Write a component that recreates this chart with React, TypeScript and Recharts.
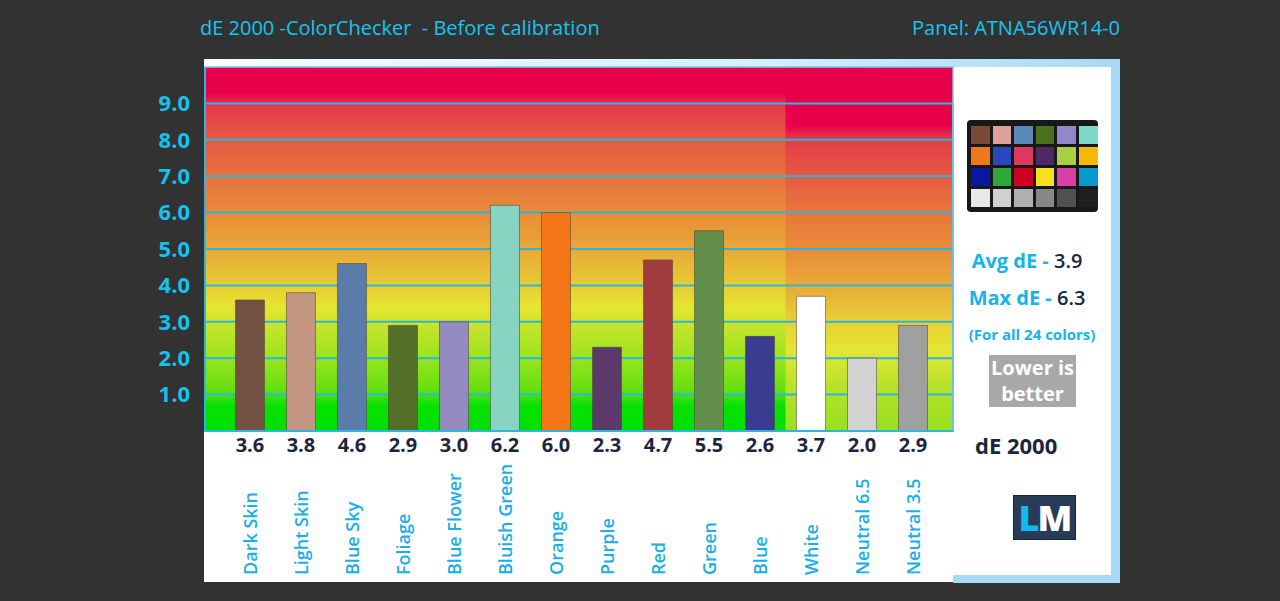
import { BarChart, Bar, XAxis, YAxis, ReferenceArea, Cell } from "recharts"

const categories = [
  "Dark Skin",
  "Light Skin",
  "Blue Sky",
  "Foliage",
  "Blue Flower",
  "Bluish Green",
  "Orange",
  "Purple",
  "Red",
  "Green",
  "Blue",
  "White",
  "Neutral 6.5",
  "Neutral 3.5",
]

const deValues = [3.6, 3.8, 4.6, 2.9, 3.0, 6.2, 6.0, 2.3, 4.7, 5.5, 2.6, 3.7, 2.0, 2.9]

const barColors = [
  "#735244", "#c39583", "#5b7caa", "#546f27", "#958bc1", "#88d4c3", "#f47616",
  "#5b396b", "#a03b3f", "#638f4d", "#393c91", "#ffffff", "#d2d2d2", "#a0a0a0",
]

const yTicks = [1, 2, 3, 4, 5, 6, 7, 8, 9]

// colorchecker swatches, row by row
const checkerColors = [
  "#7a4a38", "#dca29a", "#5a88b8", "#4a7020", "#9088c8", "#80d8c8",
  "#f07818", "#2848c0", "#e03860", "#502868", "#a8d040", "#f8b808",
  "#0818a0", "#30a838", "#d00020", "#f8e020", "#d840a8", "#0898d0",
  "#e8e8e8", "#d0d0d0", "#b0b0b0", "#888888", "#505050", "#202020",
]

const avgDe = 3.9
const maxDe = 6.3

const X_MIN = -0.882
const X_MAX = 13.784

const CYAN = "#14c2ef"
const GRID = "#2db6e0"
const NAVY = "#1b2540"
const FONT = "'Open Sans', sans-serif"

const data = categories.map((name, idx) => ({ idx, name, value: deValues[idx] }))

function CategoryTick(props: any) {
  const { x, y, payload } = props
  const i = payload.value
  return (
    <g>
      <text x={x} y={y + 21} textAnchor="middle" fill={NAVY} fontSize={20} fontWeight={700} fontFamily={FONT}>
        {deValues[i].toFixed(1)}
      </text>
      <text
        transform={`translate(${x},${y + 144}) rotate(-90)`}
        textAnchor="start"
        dominantBaseline="central"
        fill="#17aeea"
        fontSize={18}
        fontWeight={600}
        fontFamily={FONT}
      >
        {categories[i]}
      </text>
    </g>
  )
}

export default function App() {
  return (
    <div style={{ position: "fixed", left: 0, top: 0, width: 1280, height: 601, background: "#323232", overflow: "hidden", fontFamily: FONT }}>
      <div style={{ position: "absolute", left: 200, top: 14, fontSize: 20, color: "#12c6f0", whiteSpace: "pre" }}>
        {"dE 2000 -ColorChecker  - Before calibration"}
      </div>
      <div style={{ position: "absolute", right: 160, top: 14, fontSize: 20, color: "#12c6f0" }}>Panel: ATNA56WR14-0</div>

      {/* frame */}
      <div style={{ position: "absolute", left: 204, top: 59, width: 916, height: 8, background: "linear-gradient(90deg, #f6fcff 0%, #d4f0ff 60%, #a6daf8 100%)" }} />
      <div style={{ position: "absolute", left: 204, top: 67, width: 749, height: 515, background: "#ffffff" }} />
      <div style={{ position: "absolute", left: 953, top: 67, width: 167, height: 516, background: "#a6daf8" }} />
      <div style={{ position: "absolute", left: 953, top: 67, width: 158, height: 508, background: "#ffffff" }} />

      {/* right panel */}
      <div style={{ position: "absolute", left: 967, top: 120, width: 131, height: 92, background: "#181818", borderRadius: 4 }}>
        {checkerColors.map((c, i) => (
          <div
            key={i}
            style={{
              position: "absolute",
              left: 4 + (i % 6) * 21.6,
              top: 6 + Math.floor(i / 6) * 21,
              width: 18.5,
              height: 18,
              background: c,
            }}
          />
        ))}
      </div>
      <div style={{ position: "absolute", left: 948, width: 158, top: 247, textAlign: "center", fontSize: 20, fontWeight: 700, color: "#14b4ee" }}>
        Avg dE - <span style={{ color: NAVY, fontWeight: 600 }}>{avgDe.toFixed(1)}</span>
      </div>
      <div style={{ position: "absolute", left: 948, width: 158, top: 284, textAlign: "center", fontSize: 20, fontWeight: 700, color: "#14b4ee" }}>
        Max dE - <span style={{ color: NAVY, fontWeight: 600 }}>{maxDe.toFixed(1)}</span>
      </div>
      <div style={{ position: "absolute", left: 953, width: 158, top: 324, textAlign: "center", fontSize: 15, fontWeight: 700, color: "#14b4ee" }}>
        (For all 24 colors)
      </div>
      <div style={{ position: "absolute", left: 989, top: 355, width: 87, height: 52, background: "#a8a8a8", color: "#ffffff", fontSize: 20, fontWeight: 700, lineHeight: "26px", textAlign: "center" }}>
        Lower is
        <br />
        better
      </div>
      <div style={{ position: "absolute", left: 975, top: 430, fontSize: 22, fontWeight: 700, color: NAVY }}>dE 2000</div>
      <div style={{ position: "absolute", left: 1013, top: 495, width: 63, height: 45, background: "#283b57", border: "1px solid #1a2538", boxSizing: "border-box", textAlign: "center", fontSize: 36, fontWeight: 800, lineHeight: "43px", letterSpacing: -2 }}>
        <span style={{ color: "#12b8f2" }}>L</span>
        <span style={{ color: "#ffffff" }}>M</span>
      </div>

      <div style={{ position: "absolute", left: 0, top: 0 }}>
        <BarChart width={1280} height={601} data={data} margin={{ top: 67, right: 327, bottom: 0, left: 145 }}>
          <defs>
            <linearGradient id="bgLeft" x1="0" y1="0" x2="0" y2="1">
              <stop offset="0" stopColor="#e8004a" />
              <stop offset="0.07" stopColor="#e8004a" />
              <stop offset="0.11" stopColor="#e53c4a" />
              <stop offset="0.2" stopColor="#e55a44" />
              <stop offset="0.3" stopColor="#e6723e" />
              <stop offset="0.4" stopColor="#e98c38" />
              <stop offset="0.5" stopColor="#e9a837" />
              <stop offset="0.6" stopColor="#e8cc34" />
              <stop offset="0.66" stopColor="#e6e630" />
              <stop offset="0.72" stopColor="#c2e42a" />
              <stop offset="0.8" stopColor="#9ae41e" />
              <stop offset="0.89" stopColor="#62e010" />
              <stop offset="0.93" stopColor="#06e202" />
              <stop offset="1" stopColor="#00e000" />
            </linearGradient>
            <linearGradient id="bgRight" x1="0" y1="0" x2="0" y2="1">
              <stop offset="0" stopColor="#e8004a" />
              <stop offset="0.16" stopColor="#e8004a" />
              <stop offset="0.2" stopColor="#e43e48" />
              <stop offset="0.3" stopColor="#e65a42" />
              <stop offset="0.4" stopColor="#e8763a" />
              <stop offset="0.5" stopColor="#e88c38" />
              <stop offset="0.6" stopColor="#e8aa38" />
              <stop offset="0.7" stopColor="#e8d036" />
              <stop offset="0.78" stopColor="#e4e632" />
              <stop offset="0.88" stopColor="#b6e22a" />
              <stop offset="1" stopColor="#96e020" />
            </linearGradient>
          </defs>
          <ReferenceArea y1={0} y2={10} fill="url(#bgLeft)" fillOpacity={1} stroke="none" />
          <ReferenceArea x1={10.5} y1={0} y2={10} fill="url(#bgRight)" fillOpacity={1} stroke="none" />
          {/* grid lines: outlined areas from 0 up to each tick, so they sit under the bars */}
          {yTicks.map((t) => (
            <ReferenceArea key={t} y1={0} y2={t} fill="none" stroke={GRID} strokeWidth={2} />
          ))}
          <ReferenceArea y1={0} y2={10} fill="none" stroke="#7cc6ea" strokeWidth={1.5} />
          <XAxis
            type="number"
            dataKey="idx"
            domain={[X_MIN, X_MAX]}
            ticks={data.map((d) => d.idx)}
            allowDataOverflow
            height={170}
            axisLine={{ stroke: GRID, strokeWidth: 2 }}
            tickLine={false}
            tickSize={0}
            tickMargin={0}
            interval={0}
            tick={<CategoryTick />}
          />
          <YAxis
            type="number"
            domain={[0, 10]}
            ticks={yTicks}
            width={60}
            axisLine={{ stroke: GRID, strokeWidth: 2 }}
            tickLine={false}
            tickSize={0}
            tickMargin={15}
            tickFormatter={(v: number) => v.toFixed(1)}
            tick={{ fill: CYAN, fontSize: 22, fontWeight: 700, fontFamily: FONT }}
          />
          <Bar dataKey="value" barSize={29} isAnimationActive={false} stroke="rgba(80,70,55,0.55)" strokeWidth={1}>
            {data.map((d, i) => (
              <Cell key={d.name} fill={barColors[i]} />
            ))}
          </Bar>
        </BarChart>
      </div>
    </div>
  )
}
